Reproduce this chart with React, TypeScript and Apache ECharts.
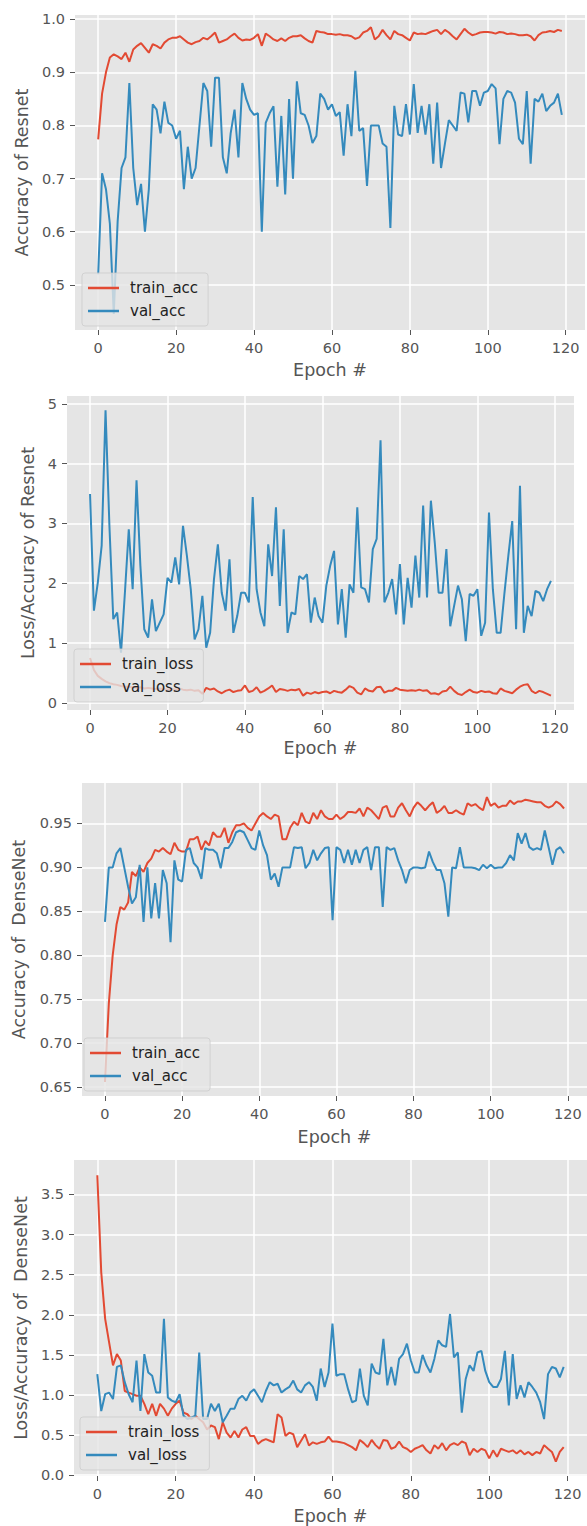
import React, { useEffect, useRef } from "react";
import * as echarts from "echarts";

// ---------- data ----------
const xTicks = [0, 20, 40, 60, 80, 100, 120];

const resnetAccTicks = [0.5, 0.6, 0.7, 0.8, 0.9, 1.0];
const resnetLossTicks = [0, 1, 2, 3, 4, 5];
const densenetAccTicks = [0.65, 0.7, 0.75, 0.8, 0.85, 0.9, 0.95];
const densenetLossTicks = [0, 0.5, 1.0, 1.5, 2.0, 2.5, 3.0, 3.5];

const resnetTrainAcc = [
  0.774, 0.86, 0.9, 0.928, 0.934, 0.93, 0.925, 0.937, 0.92, 0.943,
  0.95, 0.955, 0.946, 0.937, 0.953, 0.95, 0.945, 0.956, 0.962, 0.965,
  0.965, 0.968, 0.962, 0.956, 0.953, 0.957, 0.959, 0.965, 0.962, 0.968,
  0.975, 0.956, 0.959, 0.962, 0.968, 0.973, 0.965, 0.96, 0.962, 0.961,
  0.965, 0.972, 0.95, 0.973, 0.968, 0.962, 0.959, 0.964, 0.959, 0.965,
  0.968, 0.968, 0.97, 0.964, 0.959, 0.956, 0.978, 0.976, 0.975, 0.972,
  0.972, 0.971, 0.972, 0.97, 0.97, 0.968, 0.963, 0.966, 0.975, 0.978,
  0.985, 0.962, 0.968, 0.98, 0.97, 0.962, 0.978, 0.972, 0.97, 0.965,
  0.96, 0.975, 0.972, 0.973, 0.972, 0.975, 0.978, 0.98, 0.972, 0.98,
  0.975, 0.968, 0.962, 0.972, 0.982, 0.975, 0.97, 0.972, 0.975, 0.976,
  0.976, 0.975, 0.973, 0.976, 0.975, 0.972, 0.973, 0.972, 0.97, 0.97,
  0.971, 0.968, 0.96, 0.97, 0.975, 0.976, 0.978, 0.976, 0.98, 0.978,
];

const resnetValAcc = [
  0.52, 0.71, 0.68, 0.615, 0.445, 0.62, 0.72, 0.74, 0.88, 0.72,
  0.65, 0.69, 0.6, 0.68, 0.84, 0.83, 0.785, 0.845, 0.805, 0.8,
  0.775, 0.79, 0.68, 0.76, 0.7, 0.72, 0.8, 0.88, 0.865, 0.76,
  0.89, 0.89, 0.74, 0.71, 0.785, 0.83, 0.74, 0.88, 0.85, 0.83,
  0.82, 0.823, 0.6, 0.805, 0.823, 0.836, 0.685, 0.818, 0.67, 0.85,
  0.7, 0.883, 0.823, 0.82, 0.8, 0.767, 0.78, 0.86, 0.85, 0.83,
  0.84, 0.818, 0.825, 0.743, 0.84, 0.78, 0.903, 0.79, 0.795, 0.686,
  0.8, 0.8, 0.8, 0.766, 0.76, 0.607, 0.837, 0.783, 0.78, 0.84,
  0.783, 0.878, 0.786, 0.837, 0.783, 0.84, 0.728, 0.843, 0.72, 0.766,
  0.81, 0.8, 0.79, 0.862, 0.86, 0.806, 0.865, 0.865, 0.837, 0.862,
  0.865, 0.878, 0.87, 0.765, 0.85, 0.865, 0.862, 0.843, 0.775, 0.765,
  0.865, 0.728, 0.85, 0.845, 0.86, 0.827, 0.837, 0.843, 0.86, 0.82,
];

const resnetTrainLoss = [
  0.75, 0.55, 0.45, 0.4, 0.36, 0.33, 0.31, 0.3, 0.28, 0.27,
  0.27, 0.26, 0.25, 0.26, 0.24, 0.25, 0.24, 0.23, 0.24, 0.23,
  0.22, 0.23, 0.22, 0.24, 0.22, 0.21, 0.22, 0.2, 0.21, 0.15,
  0.25, 0.22, 0.24, 0.19, 0.16, 0.2, 0.22, 0.18, 0.2, 0.21,
  0.29, 0.18, 0.2, 0.26, 0.17, 0.2, 0.24, 0.29, 0.18, 0.23,
  0.22, 0.2, 0.22, 0.21, 0.23, 0.12, 0.17, 0.15, 0.18, 0.16,
  0.18, 0.19, 0.16, 0.2, 0.18, 0.17, 0.22, 0.28, 0.25, 0.17,
  0.14, 0.24, 0.2, 0.19, 0.26, 0.27, 0.17, 0.2, 0.2, 0.25,
  0.22, 0.21, 0.2, 0.21, 0.2, 0.22, 0.2, 0.21, 0.15, 0.16,
  0.14, 0.19, 0.2, 0.27, 0.2, 0.15, 0.13, 0.18, 0.22, 0.18,
  0.17, 0.2, 0.18, 0.19, 0.16, 0.15, 0.24, 0.2, 0.18, 0.16,
  0.22, 0.27, 0.3, 0.31, 0.2, 0.16, 0.2, 0.18, 0.15, 0.12,
];

const resnetValLoss = [
  3.49, 1.54, 2.01, 2.63, 4.89, 2.96, 1.4, 1.51, 0.84, 1.84,
  2.9, 1.9, 3.72, 2.29, 1.23, 1.09, 1.73, 1.2, 1.34, 1.48,
  2.09, 2.01, 2.43, 1.98, 2.96, 2.46, 1.9, 1.06, 1.23, 1.79,
  0.92, 1.17, 2.07, 2.65, 1.84, 1.54, 2.4, 1.17, 1.45, 1.84,
  1.84, 1.68, 3.44, 1.9, 1.51, 1.28, 2.65, 2.12, 3.27, 1.62,
  2.9, 1.17, 1.51, 1.48, 2.12, 2.07, 2.15, 1.34, 1.76, 1.45,
  1.34, 1.96, 2.29, 2.54, 1.31, 1.9, 1.09, 1.98, 1.84, 3.27,
  1.93, 1.9, 1.68, 2.57, 2.74, 4.39, 1.68, 1.84, 2.07, 1.48,
  2.32, 1.31, 2.09, 1.59, 2.46, 1.76, 3.3, 1.76, 3.38, 2.68,
  1.84, 1.84, 2.57, 1.28, 1.62, 1.96, 1.73, 1.03, 1.82, 1.79,
  1.9, 1.12, 1.34, 3.18, 1.9, 1.17, 1.17, 1.84, 2.46, 3.04,
  1.23, 3.63, 1.17, 1.62, 1.45, 1.87, 1.84, 1.7, 1.9, 2.04,
];

const densenetTrainAcc = [
  0.656, 0.745, 0.8, 0.835, 0.855, 0.852, 0.86, 0.895, 0.89, 0.9,
  0.895, 0.905, 0.91, 0.92, 0.918, 0.922, 0.918, 0.915, 0.928, 0.92,
  0.918, 0.918, 0.932, 0.932, 0.935, 0.92, 0.93, 0.925, 0.94, 0.935,
  0.935, 0.945, 0.928, 0.94, 0.948, 0.948, 0.95, 0.945, 0.942, 0.95,
  0.958, 0.962, 0.958, 0.955, 0.96, 0.958, 0.932, 0.932, 0.945, 0.952,
  0.948, 0.962, 0.952, 0.95, 0.962, 0.955, 0.965, 0.958, 0.955, 0.955,
  0.96, 0.955, 0.958, 0.963, 0.963, 0.962, 0.967, 0.958, 0.968, 0.965,
  0.96, 0.955, 0.968, 0.97, 0.958, 0.958, 0.968, 0.973, 0.965, 0.958,
  0.968, 0.974, 0.97, 0.965, 0.97, 0.974, 0.962, 0.965, 0.97, 0.962,
  0.962, 0.965, 0.962, 0.96, 0.973, 0.97, 0.972, 0.968, 0.965, 0.98,
  0.97, 0.973, 0.968, 0.97, 0.97, 0.976, 0.972, 0.975, 0.975, 0.977,
  0.976, 0.975, 0.974, 0.974, 0.97, 0.968, 0.97, 0.975, 0.972, 0.967,
];

const densenetValAcc = [
  0.838, 0.9, 0.9, 0.916, 0.922, 0.9, 0.878, 0.859, 0.866, 0.903,
  0.838, 0.9, 0.842, 0.882, 0.842, 0.897, 0.882, 0.815, 0.908, 0.886,
  0.884, 0.92, 0.922, 0.905, 0.9, 0.887, 0.922, 0.92, 0.92, 0.916,
  0.899, 0.922, 0.922, 0.929, 0.94, 0.942, 0.94, 0.931, 0.922, 0.92,
  0.942, 0.925, 0.914, 0.886, 0.893, 0.878, 0.9, 0.9, 0.9, 0.923,
  0.922, 0.923, 0.899, 0.905, 0.92, 0.908, 0.916, 0.922, 0.923, 0.84,
  0.923, 0.92, 0.905, 0.92, 0.903, 0.92, 0.905, 0.92, 0.923, 0.897,
  0.923, 0.923, 0.855, 0.923, 0.92, 0.922, 0.908, 0.897, 0.882, 0.897,
  0.9, 0.9, 0.899, 0.9, 0.918, 0.906, 0.897, 0.897, 0.882, 0.844,
  0.9, 0.899, 0.923, 0.9, 0.9, 0.9, 0.899, 0.897, 0.903, 0.899,
  0.903, 0.899, 0.9, 0.9, 0.905, 0.914, 0.908, 0.939, 0.927, 0.939,
  0.923, 0.92, 0.922, 0.92, 0.942, 0.923, 0.903, 0.92, 0.923, 0.916,
];

const densenetTrainLoss = [
  3.74, 2.53, 1.95, 1.66, 1.37, 1.51, 1.43, 1.05, 1.03, 1.01,
  0.99, 0.99, 0.89, 0.76, 0.89, 0.74, 0.89, 0.83, 0.74, 0.83,
  0.89, 0.93, 0.78, 0.76, 0.7, 0.74, 0.7, 0.66, 0.57, 0.62,
  0.6, 0.45, 0.66, 0.53, 0.47, 0.55, 0.47, 0.57, 0.6, 0.49,
  0.49, 0.39, 0.43, 0.45, 0.43, 0.41, 0.76, 0.72, 0.49, 0.53,
  0.51, 0.35, 0.43, 0.51, 0.37, 0.41, 0.39, 0.41, 0.42, 0.48,
  0.42, 0.42, 0.41, 0.4, 0.375, 0.35, 0.31, 0.44, 0.4, 0.35,
  0.44, 0.375, 0.33, 0.44, 0.43, 0.33, 0.35, 0.42, 0.35, 0.33,
  0.29, 0.33, 0.35, 0.375, 0.31, 0.27, 0.375, 0.33, 0.4, 0.31,
  0.375, 0.4, 0.375, 0.42, 0.4, 0.25, 0.33, 0.29, 0.33, 0.31,
  0.21, 0.31, 0.23, 0.33, 0.31, 0.29, 0.31, 0.27, 0.31, 0.26,
  0.29, 0.25, 0.29, 0.27, 0.375, 0.33, 0.29, 0.17, 0.29, 0.35,
];

const densenetValLoss = [
  1.26, 0.8, 1.01, 1.03, 0.95, 1.35, 1.37, 1.16, 1.01, 0.91,
  1.43, 0.8, 1.51, 1.28, 1.24, 1.03, 1.03, 1.95, 0.97, 0.93,
  0.91, 1.01, 0.74, 0.7, 0.72, 0.74, 1.53, 0.7, 0.7, 0.89,
  0.8, 0.89, 0.66, 0.74, 0.83, 0.83, 0.95, 0.99, 0.93, 1.03,
  1.07, 0.99, 0.91, 1.05, 1.16, 1.12, 1.14, 1.03, 1.07, 1.1,
  1.18, 1.07, 1.03, 1.12, 1.16, 1.1, 0.93, 1.33, 1.1, 1.28,
  1.89, 1.24, 1.26, 1.26, 1.07, 0.91, 0.93, 1.33, 0.99, 0.87,
  1.39, 1.28, 1.26, 1.7, 1.12, 1.35, 1.12, 1.45, 1.51, 1.64,
  1.43, 1.28, 1.28, 1.5, 1.37, 1.28, 1.45, 1.68, 1.62, 1.6,
  2.01, 1.47, 1.53, 0.78, 1.2, 1.37, 1.3, 1.53, 1.55, 1.3,
  1.16, 1.1, 1.1, 1.2, 1.55, 0.87, 1.51, 0.95, 1.12, 0.97,
  1.16, 1.1, 1.03, 0.91, 0.7, 1.26, 1.35, 1.33, 1.22, 1.35,
];

// ---------- styling ----------
const FONT = "DejaVu Sans";
const RED = "#E24A33";
const BLUE = "#348ABD";
const TICK_COLOR = "#555555";

type Panel = {
  grid: { left: number; top: number; width: number; height: number };
  yMin: number;
  yMax: number;
  yTicks: number[];
  yDecimals: number;
  yName: string;
  yNameGap: number;
  xNameGap: number;
  train: number[];
  val: number[];
  trainName: string;
  valName: string;
  legendPos: { left: number; top: number };
};

const panels: Panel[] = [
  {
    grid: { left: 75, top: 15, width: 510, height: 315 },
    yMin: 0.415, yMax: 1.008, yTicks: resnetAccTicks, yDecimals: 1,
    yName: "Accuracy of Resnet", yNameGap: 44, xNameGap: 31,
    train: resnetTrainAcc, val: resnetValAcc,
    trainName: "train_acc", valName: "val_acc",
    legendPos: { left: 82, top: 273 },
  },
  {
    grid: { left: 67, top: 396, width: 507, height: 314 },
    yMin: -0.12, yMax: 5.13, yTicks: resnetLossTicks, yDecimals: 0,
    yName: "Loss/Accuracy of Resnet", yNameGap: 28, xNameGap: 29,
    train: resnetTrainLoss, val: resnetValLoss,
    trainName: "train_loss", valName: "val_loss",
    legendPos: { left: 74, top: 649 },
  },
  {
    grid: { left: 82, top: 783, width: 512, height: 313 },
    yMin: 0.64, yMax: 0.996, yTicks: densenetAccTicks, yDecimals: 2,
    yName: "Accuracy of  DenseNet", yNameGap: 54, xNameGap: 32,
    train: densenetTrainAcc, val: densenetValAcc,
    trainName: "train_acc", valName: "val_acc",
    legendPos: { left: 84, top: 1038 },
  },
  {
    grid: { left: 74, top: 1160, width: 514, height: 317 },
    yMin: -0.01, yMax: 3.93, yTicks: densenetLossTicks, yDecimals: 1,
    yName: "Loss/Accuracy of  DenseNet", yNameGap: 41, xNameGap: 31,
    train: densenetTrainLoss, val: densenetValLoss,
    trainName: "train_loss", valName: "val_loss",
    legendPos: { left: 80, top: 1417 },
  },
];

function buildOption() {
  const grid: any[] = [];
  const xAxis: any[] = [];
  const yAxis: any[] = [];
  const series: any[] = [];
  const legend: any[] = [];

  panels.forEach((p, i) => {
    grid.push({
      ...p.grid,
      show: true,
      backgroundColor: "#E5E5E5",
      borderWidth: 0,
      containLabel: false,
    });
    xAxis.push({
      type: "value",
      gridIndex: i,
      min: -5.95,
      max: 124.95,
      name: "Epoch #",
      nameLocation: "middle",
      nameGap: p.xNameGap,
      nameTextStyle: { color: TICK_COLOR, fontSize: 17.5, fontFamily: FONT },
      axisLine: { show: false, onZero: false },
      axisTick: {
        show: true,
        inside: false,
        length: 5,
        customValues: xTicks,
        lineStyle: { color: TICK_COLOR, width: 1 },
      },
      axisLabel: {
        customValues: xTicks,
        margin: 10,
        color: TICK_COLOR,
        fontSize: 14.5,
        fontFamily: FONT,
        formatter: (v: number) => String(v),
      },
      splitLine: { show: true, lineStyle: { color: "#FFFFFF", width: 1.5 } },
    });
    yAxis.push({
      type: "value",
      gridIndex: i,
      min: p.yMin,
      max: p.yMax,
      name: p.yName,
      nameLocation: "middle",
      nameGap: p.yNameGap,
      nameRotate: 90,
      nameTextStyle: { color: TICK_COLOR, fontSize: 17.5, fontFamily: FONT },
      axisLine: { show: false, onZero: false },
      axisTick: {
        show: true,
        inside: false,
        length: 5,
        customValues: p.yTicks,
        lineStyle: { color: TICK_COLOR, width: 1 },
      },
      axisLabel: {
        customValues: p.yTicks,
        margin: 10,
        color: TICK_COLOR,
        fontSize: 14.5,
        fontFamily: FONT,
        formatter: (v: number) => v.toFixed(p.yDecimals),
      },
      splitLine: { show: true, lineStyle: { color: "#FFFFFF", width: 1.5 } },
    });
    series.push({
      type: "line",
      name: p.trainName,
      xAxisIndex: i,
      yAxisIndex: i,
      data: p.train.map((v, e) => [e, v]),
      symbol: "none",
      showSymbol: false,
      lineStyle: { color: RED, width: 2 },
      itemStyle: { color: RED },
      z: 2,
    });
    series.push({
      type: "line",
      name: p.valName,
      xAxisIndex: i,
      yAxisIndex: i,
      data: p.val.map((v, e) => [e, v]),
      symbol: "none",
      showSymbol: false,
      lineStyle: { color: BLUE, width: 2 },
      itemStyle: { color: BLUE },
      z: 3,
    });
    legend.push({
      orient: "vertical",
      left: p.legendPos.left,
      top: p.legendPos.top,
      data: [p.trainName, p.valName],
      icon: "rect",
      itemWidth: 31,
      itemHeight: 2.5,
      itemGap: 7,
      padding: [7, 10, 7, 6],
      backgroundColor: "rgba(229,229,229,0.8)",
      borderColor: "rgba(204,204,204,0.8)",
      borderWidth: 1,
      borderRadius: 3,
      selectedMode: false,
      textStyle: {
        color: "#222222",
        fontSize: 15,
        fontFamily: FONT,
        lineHeight: 16,
        padding: [0, 0, 0, 6],
      },
    });
  });

  return {
    animation: false,
    backgroundColor: "#FFFFFF",
    textStyle: { fontFamily: FONT },
    grid,
    xAxis,
    yAxis,
    series,
    legend,
  };
}

export default function App() {
  const ref = useRef<HTMLDivElement>(null);
  useEffect(() => {
    if (!ref.current) return;
    const chart = echarts.init(ref.current, undefined, { renderer: "svg" });
    chart.setOption(buildOption() as any);
    return () => chart.dispose();
  }, []);
  return (
    <div
      ref={ref}
      style={{ position: "absolute", left: 0, top: 0, width: 587, height: 1526 }}
    />
  );
}
